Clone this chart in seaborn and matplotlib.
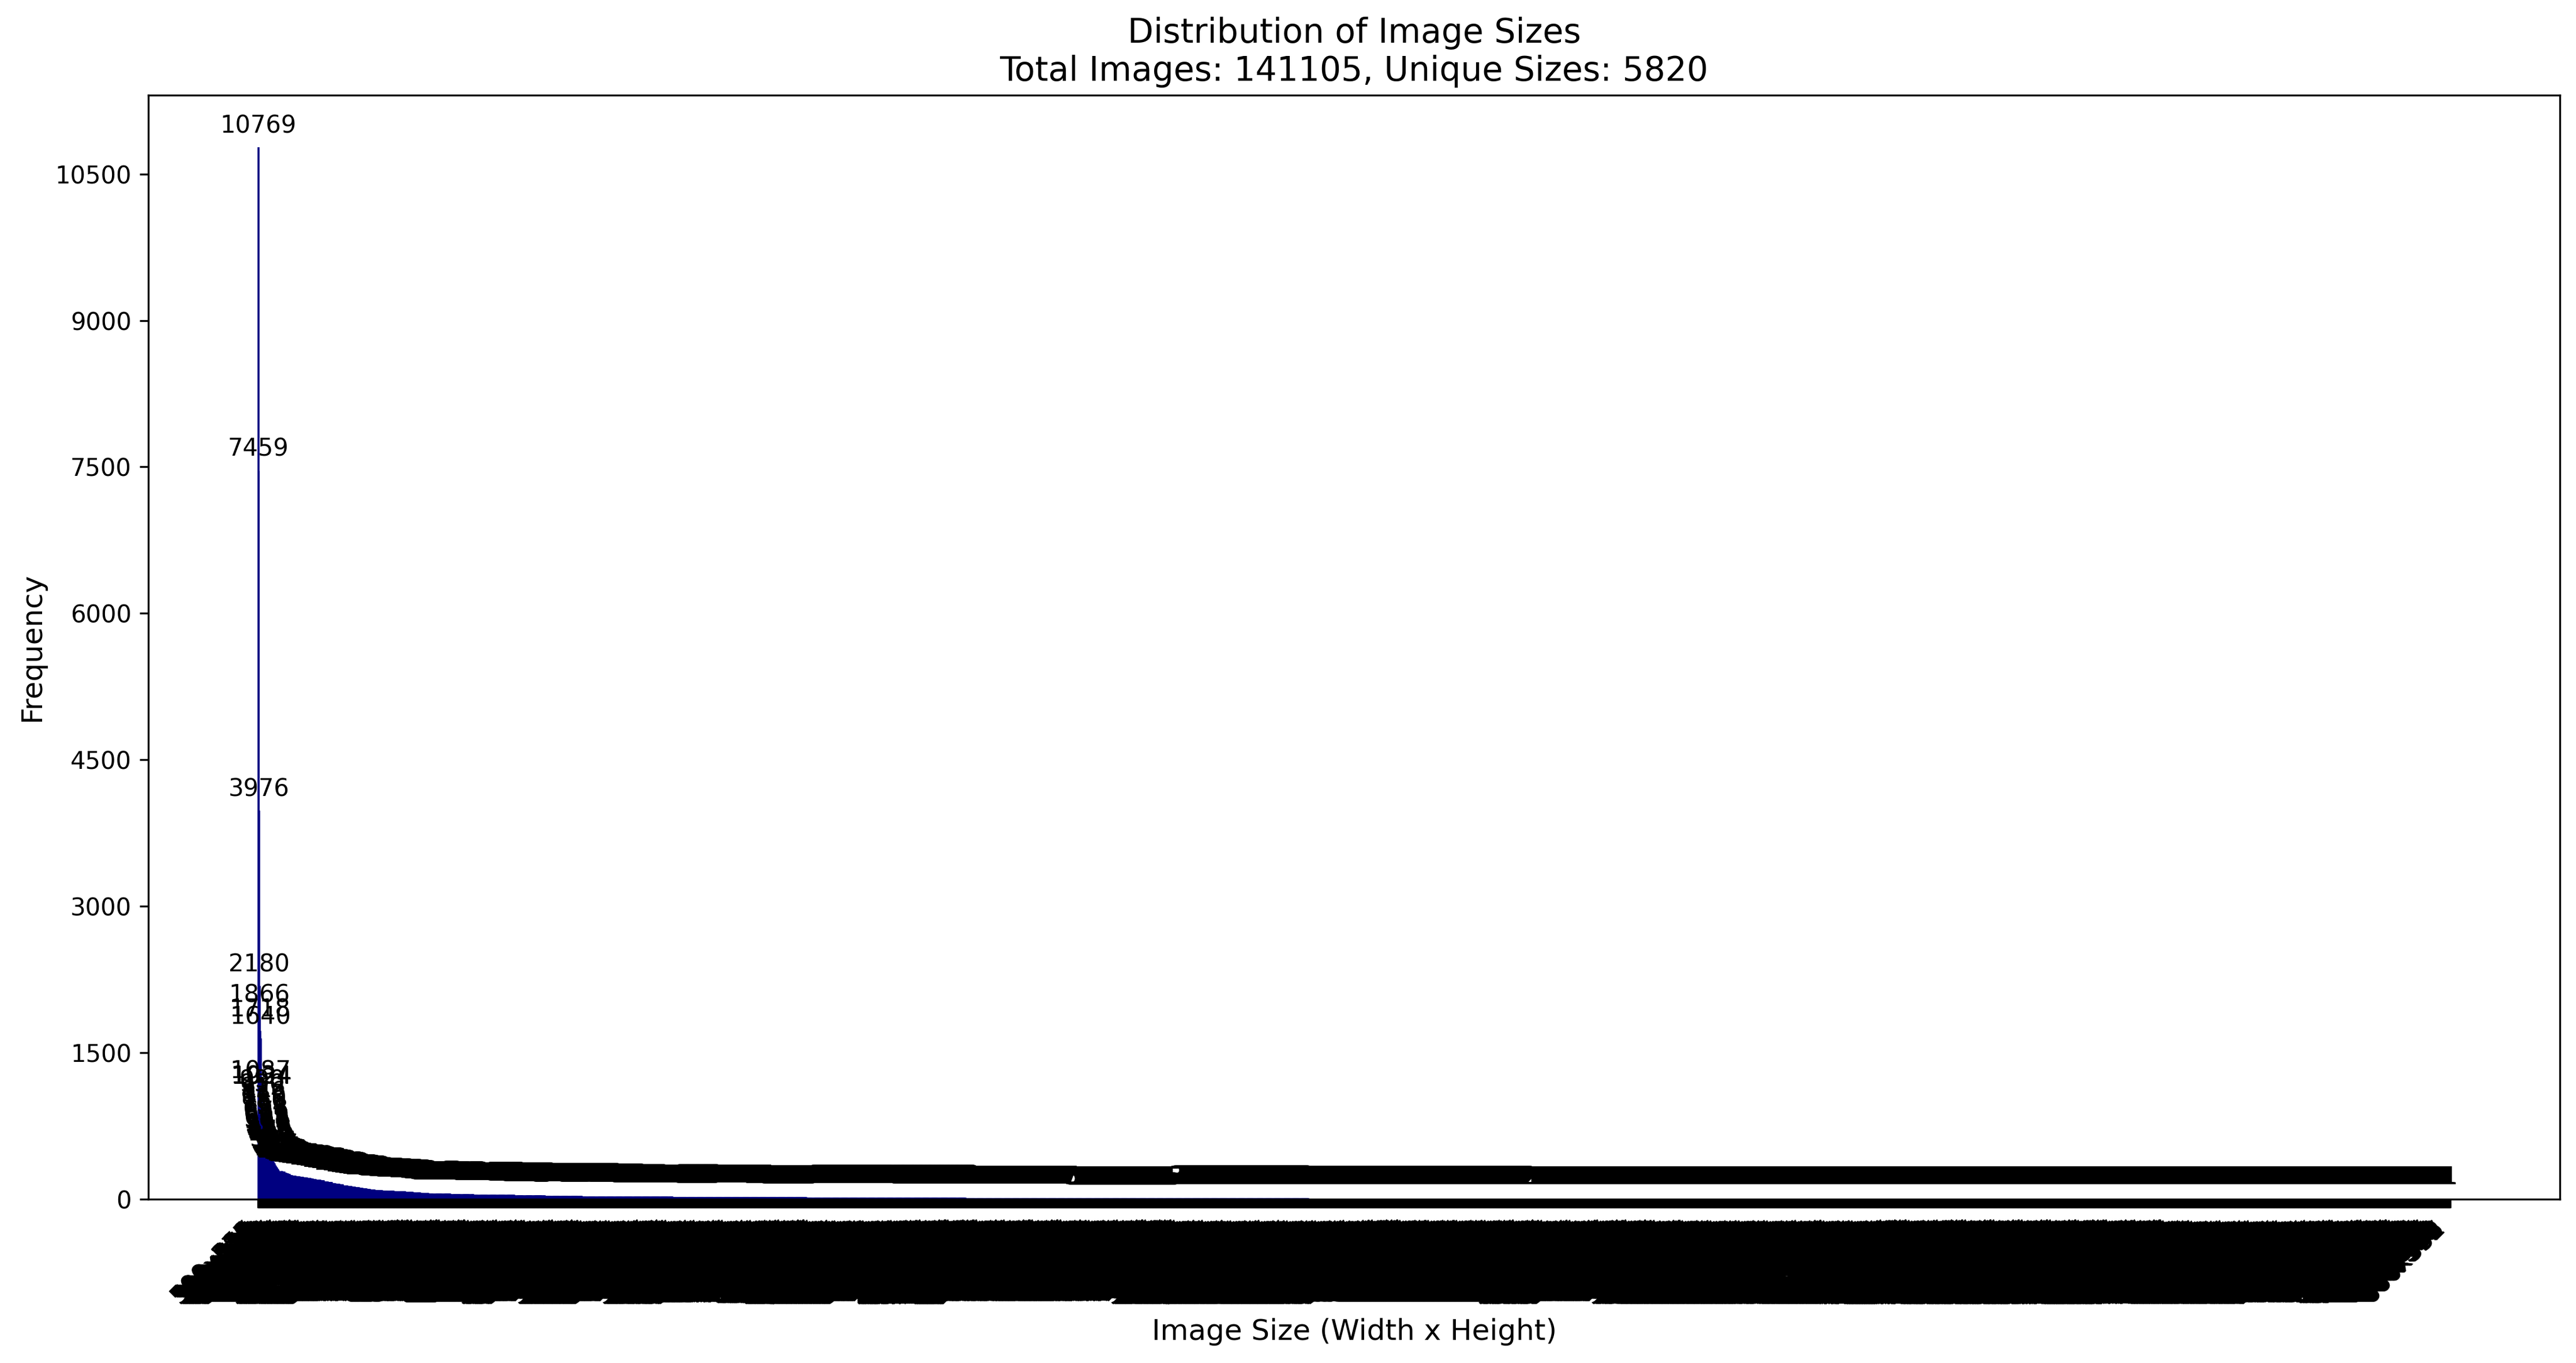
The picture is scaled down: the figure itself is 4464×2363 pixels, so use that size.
import numpy as np
import seaborn as sns
import matplotlib
matplotlib.use('Agg')
import matplotlib.pyplot as plt

# Frequencies of the most common sizes
top_counts = [10769, 7459, 3976, 2180, 1866, 1718, 1640, 1087, 1034, 1024]

# Next bars, estimated from the label stack and the bar outline
next_counts = [990, 950, 912, 876, 842, 810, 780, 751, 724, 698,
               674, 651, 629, 608, 588, 569, 551, 534, 518, 503,
               489, 476, 464, 452, 441, 430, 420, 410, 400, 391,
               382, 374, 366, 358,
               351, 344, 337, 331, 325, 319, 313, 307, 302, 297,
               292, 287, 282, 277, 273, 269]

# Long tail, estimated as runs: value and how many sizes share it
tail_values = [284, 276, 268, 260, 252, 244,
               237, 230, 224, 219, 214, 209,
               202, 194, 186, 178, 170,
               162, 154, 146, 138, 131,
               124, 118, 112, 106, 101,
               94, 91, 88, 85, 82,
               80, 78, 76, 74, 72,
               69, 66, 63, 60, 57,
               55, 52, 49, 46, 44,
               42, 39, 36, 33, 31,
               29, 26, 23,
               21, 19,
               17, 15,
               12, 10,
               7, 5,
               3,
               2, 1]
tail_runs = [5, 5, 5, 5, 5, 5,
             10, 10, 10, 10, 10, 5,
             10, 10, 10, 10, 11,
             10, 10, 10, 11, 11,
             10, 10, 10, 10, 11,
             10, 10, 10, 10, 11,
             10, 10, 10, 10, 11,
             10, 10, 10, 10, 11,
             30, 30, 30, 30, 29,
             40, 40, 40, 40, 29,
             70, 70, 70,
             100, 100,
             128, 128,
             212, 212,
             279, 278,
             351,
             593, 2439]

# Tick label parts (the real labels are unreadable in the picture)
label_widths = [500, 640, 375, 333, 480, 427, 612, 425, 800, 600, 512, 450, 332,
                360, 400, 320, 576, 768, 720, 960, 544, 350, 300, 448, 256, 299,
                281, 419, 426, 478, 481, 496, 499, 501, 514, 530, 566, 580, 585,
                591, 629, 630, 634, 636, 638, 639, 542, 520, 410, 405, 392, 383,
                366, 353, 340, 327, 315, 310, 290, 283, 270, 264, 250, 240, 228,
                224, 213, 200, 192, 180, 160, 150, 128, 750, 700, 900, 850, 660]
label_heights = [375, 500, 480, 333, 427, 640, 425, 612, 360, 400, 450, 600, 512,
                 320, 338, 335, 334, 332, 331, 330, 428, 426, 424, 423, 421, 419,
                 413, 410, 406, 402, 399, 396, 390, 385, 383, 380, 378, 376, 374,
                 372, 370, 366, 362, 357, 352, 350, 344, 340, 326, 318, 310, 300,
                 291, 282, 280, 270, 267, 256, 250, 240, 225, 213, 200, 478, 476,
                 473, 471, 468, 465, 461, 457, 453, 447, 443, 440]

counts = np.concatenate([top_counts, next_counts, np.repeat(tail_values, tail_runs)])
n = len(counts)
labels = [f"{w}x{h}" for w in label_widths for h in label_heights][:n]

fig, ax = plt.subplots(figsize=(14.88, 7.8767), dpi=300)
fig.subplots_adjust(left=0.0576, right=0.9937, bottom=0.1202, top=0.9302)

sns.barplot(x=labels, y=counts, color='navy', saturation=1, errorbar=None,
            edgecolor='navy', linewidth=0.6, ax=ax)

# matplotlib-like x margins around the bars
pad = 0.05 * (n - 0.2)
ax.set_xlim(-0.4 - pad, n - 0.6 + pad)

# value on top of every bar
for i, v in enumerate(counts):
    ax.annotate(str(v), (i, v), xytext=(0, 4), textcoords='offset points',
                ha='center', va='bottom', fontsize=10)

ax.set_xticks(range(n))
ax.set_xticklabels(labels, rotation=45, ha='right', fontsize=10)
ax.set_yticks(range(0, 11000, 1500))

ax.set_title('Distribution of Image Sizes\nTotal Images: 141105, Unique Sizes: 5820', fontsize=14)
ax.set_xlabel('Image Size (Width x Height)', fontsize=12)
ax.set_ylabel('Frequency', fontsize=12)

fig.savefig('out.png', dpi=300)
